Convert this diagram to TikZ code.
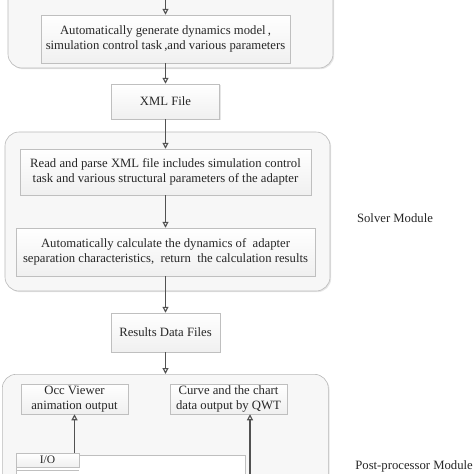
\documentclass[tikz,border=0pt]{standalone}
\usepackage{fontspec}
\setmainfont{Liberation Serif}
\usetikzlibrary{arrows.meta,shadows}

\tikzset{
  module/.style={draw=gray!55, fill=gray!6, rounded corners=14pt, line width=0.6pt,
    drop shadow={opacity=0.2, shadow xshift=1.2pt, shadow yshift=-1.2pt}},
  stepbox/.style={draw=gray!50, top color=white, bottom color=gray!12, line width=0.5pt,
    align=center, inner sep=0pt, font=\fontsize{12.7}{15.5}\selectfont, text=black!85,
    drop shadow={opacity=0.2, shadow xshift=1pt, shadow yshift=-1pt}},
  flow/.style={draw=black!68, line width=1.1pt, -{Triangle[open,length=6pt,width=6pt]}},
  modlabel/.style={font=\fontsize{12.7}{14}\selectfont, text=black!85}
}

\begin{document}
\begin{tikzpicture}[x=1pt,y=-1pt]
    \useasboundingbox (0,0) rectangle (474,474);
    \clip (0,0) rectangle (474,474);
    % modules
    \draw [module] (8,-30) rectangle (333,68);
    \draw [module] (5,132) rectangle (330,291);
    \node [module, minimum width=326pt, minimum height=150pt, anchor=north west] (post) at (2,374) {};
    % main column
    \node [stepbox, minimum width=249pt, minimum height=48pt] (gen) at (165.5,39)
      {Automatically generate dynamics model\,,\\ simulation control task\,,and various parameters};
    \node [stepbox, minimum width=108pt, minimum height=35pt] (xml) at (165.5,101.5) {XML File};
    \node [stepbox, minimum width=291pt, minimum height=46pt] (parse) at (165.5,172)
      {Read and parse XML file includes simulation control\\ task and various structural parameters of the adapter};
    \node [stepbox, minimum width=299pt, minimum height=48pt] (calc) at (165.5,252)
      {Automatically calculate the dynamics of \ adapter\\ separation characteristics, \ return \ the calculation results};
    \node [stepbox, minimum width=109pt, minimum height=39pt] (results) at (165.5,332.5) {Results Data Files};
    % post-processor
    \node [stepbox, minimum width=107pt, minimum height=30pt] (occ) at (74.5,399)
      {Occ Viewer\\ animation output};
    \node [stepbox, minimum width=117pt, minimum height=30pt] (curve) at (228.5,399)
      {Curve and the chart\\ data output by QWT};
    \draw [draw=gray!50, fill=white, line width=0.5pt] (16,455) rectangle (245,500);
    \draw [draw=gray!50, line width=0.5pt] (16,470) -- (79,470);
    \node [stepbox, drop shadow={opacity=0}, minimum width=63pt, minimum height=14pt, font=\fontsize{11.5}{12}\selectfont] (io) at (47.5,460) {I/O};
    \coordinate (top) at (165.5,0);
    \coordinate (curvein) at (250,480);
    % connectors
    \draw [flow] (top) -- (gen.north);
    \draw [flow] (gen.south) -- (xml.north);
    \draw [flow] (xml.south) -- (parse.north);
    \draw [flow] (parse.south) -- (calc.north);
    \draw [flow] (calc.south) -- (results.north);
    \draw [flow] (results.south) -- (results.south |- post.north);
    \draw [flow] (occ.south |- io.north) -- (occ.south);
    \draw [flow] (curvein) -- (curvein |- curve.south);
    % labels
    \node [modlabel] (solverlabel) at (395,218) {Solver Module};
    \node [modlabel, anchor=east, inner xsep=1pt] (postlabel) at (474,466) {Post-processor Module};
\end{tikzpicture}
\end{document}
